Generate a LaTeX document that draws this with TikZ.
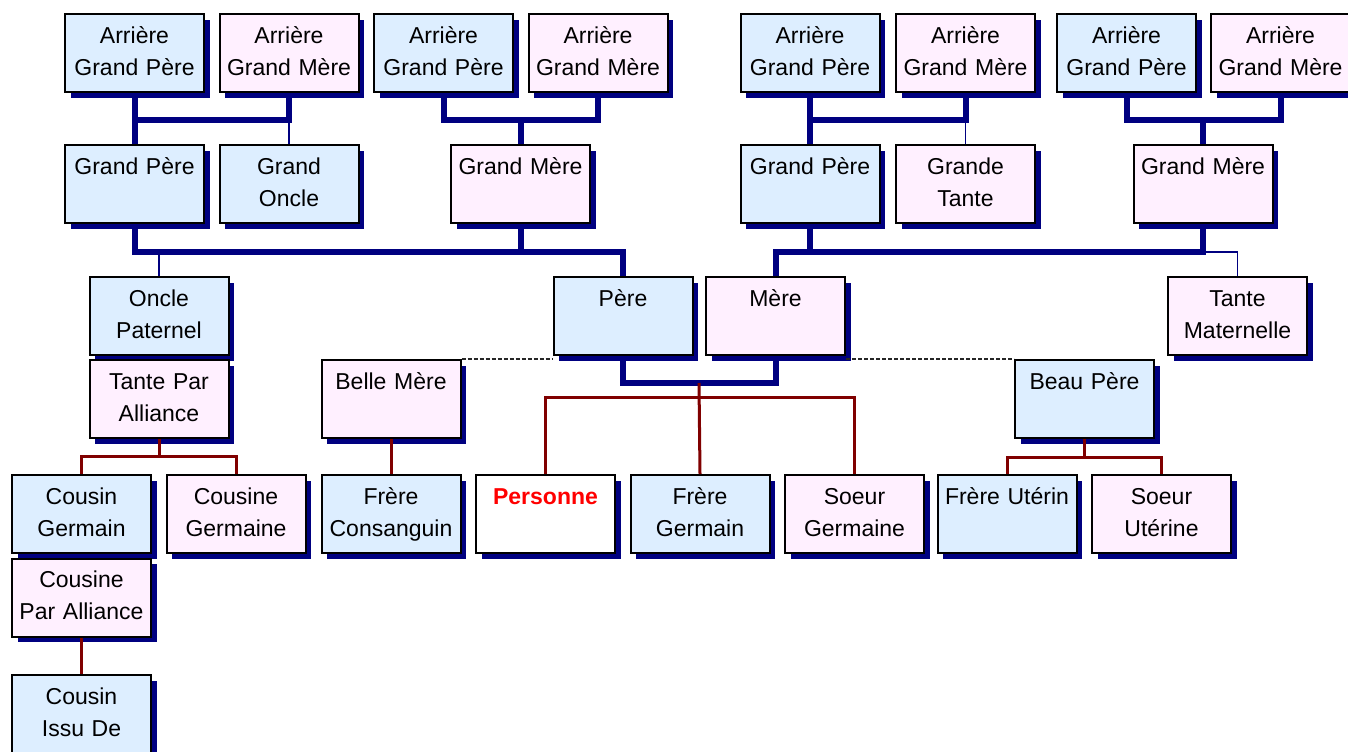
\documentclass[tikz,border=0pt]{standalone}
\usepackage{fontspec}
\setmainfont{Liberation Sans}
\usetikzlibrary{shadows}
\definecolor{bleu}{RGB}{221,238,255}
\definecolor{rose}{RGB}{255,240,255}
\definecolor{marine}{RGB}{0,0,128}
\definecolor{bordeaux}{RGB}{128,0,0}

\begin{document}
\begin{tikzpicture}[x=0.5pt,y=-0.5pt]
	\tikzstyle{case}=[rectangle,draw=black,line width=1pt,text width=69.5pt,minimum height=39pt,inner xsep=0pt,inner ysep=0pt,align=center,font=\fontsize{11.5}{16}\selectfont,execute at begin node=\strut,execute at end node=\strut,drop shadow={shadow xshift=2.75pt,shadow yshift=-2.75pt,fill=marine,opacity=1}]
	\tikzstyle{homme}=[case,fill=bleu]
	\tikzstyle{femme}=[case,fill=rose]
	\tikzstyle{moi}=[case,fill=white,text=red,font=\fontsize{11.5}{16}\selectfont\bfseries]
	\tikzstyle{epais}=[draw=marine,line width=3pt]
	\tikzstyle{fin}=[draw=marine,line width=0.6pt]
	\tikzstyle{rouge}=[draw=bordeaux,line width=1.5pt]
	\tikzstyle{pointille}=[draw=black!85,line width=0.7pt,dash pattern=on 2pt off 1pt]
	\useasboundingbox (0,0) rectangle (1348,751);
	\node[homme] (agp1) at (134.5,53){Arrière\\Grand Père};
	\node[femme] (agm1) at (289,53){Arrière\\Grand Mère};
	\node[homme] (agp2) at (443.5,53){Arrière\\Grand Père};
	\node[femme] (agm2) at (598,53){Arrière\\Grand Mère};
	\node[homme] (agp3) at (810,53){Arrière\\Grand Père};
	\node[femme] (agm3) at (965.5,53){Arrière\\Grand Mère};
	\node[homme] (agp4) at (1126.5,53){Arrière\\Grand Père};
	\node[femme] (agm4) at (1280.5,53){Arrière\\Grand Mère};
	\node[homme] (gp1) at (134.5,184){Grand Père\\};
	\node[homme] (go) at (289,184){Grand\\Oncle};
	\node[femme] (gm2) at (520.5,184){Grand Mère\\};
	\node[homme] (gp3) at (810,184){Grand Père\\};
	\node[femme] (gt) at (965.5,184){Grande\\Tante};
	\node[femme] (gm4) at (1203,184){Grand Mère\\};
	\node[homme] (op) at (159,316){Oncle\\Paternel};
	\node[homme] (pere) at (623,316){Père\\};
	\node[femme] (mere) at (775.5,316){Mère\\};
	\node[femme] (tm) at (1237.5,316){Tante\\Maternelle};
	\node[femme] (tpa) at (159,399){Tante Par\\Alliance};
	\node[femme] (bm) at (391,399){Belle Mère\\};
	\node[homme] (bp) at (1084.5,399){Beau Père\\};
	\node[homme] (cg) at (81.5,514){Cousin\\Germain};
	\node[femme] (cge) at (236,514){Cousine\\Germaine};
	\node[homme] (fc) at (391,514){Frère\\Consanguin};
	\node[moi] (moi) at (545.5,514){Personne\\};
	\node[homme] (fg) at (700,514){Frère\\Germain};
	\node[femme] (sg) at (854.5,514){Soeur\\Germaine};
	\node[homme] (fu) at (1007,514){Frère Utérin\\};
	\node[femme] (su) at (1161.5,514){Soeur\\Utérine};
	\node[femme] (cpa) at (81.5,597.5){Cousine\\Par Alliance};
	\node[homme] (cid) at (81.5,714){Cousin\\Issu De};
	\coordinate (u1) at (289,120);
	\coordinate (u2) at (520.5,120);
	\coordinate (u3) at (965.5,120);
	\coordinate (u4) at (1203,120);
	\coordinate (barp) at (400,252);
	\coordinate (barm) at (1000,252);
	\coordinate (c) at (699,383);
	\coordinate (r) at (699,397);
	\coordinate (t) at (159,456);
	\coordinate (b) at (1084.5,457);
	\draw[epais] (agp1.south) -- (gp1.north);
	\draw[epais] (agm1.south) -- (u1) -- (u1 -| agp1.south);
	\draw[fin] (u1) -- (go.north);
	\draw[epais] (agp2.south) -- (agp2.south |- u2) -- (agm2.south |- u2) -- (agm2.south);
	\draw[epais] (u2) -- (gm2.north);
	\draw[epais] (agp3.south) -- (gp3.north);
	\draw[epais] (agm3.south) -- (u3) -- (u3 -| agp3.south);
	\draw[fin] (u3) -- (gt.north);
	\draw[epais] (agp4.south) -- (agp4.south |- u4) -- (agm4.south |- u4) -- (agm4.south);
	\draw[epais] (u4) -- (gm4.north);
	\draw[epais] (gp1.south) |- (barp) -| (pere.north);
	\draw[epais] (gm2.south) -- (gm2.south |- barp);
	\draw[fin] (op.north) -- (op.north |- barp);
	\draw[epais] (mere.north) |- (barm) -| (gm4.south);
	\draw[epais] (gp3.south) -- (gp3.south |- barm);
	\draw[fin] (gm4.south |- barm) -| (tm.north);
	\draw[epais] (pere.south) |- (c) -| (mere.south);
	\draw[rouge] (c) -- (fg.north);
	\draw[rouge] (moi.north) |- (r) -| (sg.north);
	\draw[rouge] (tpa.south) -- (t);
	\draw[rouge] (cg.north) |- (t) -| (cge.north);
	\draw[rouge] (bm.south) -- (fc.north);
	\draw[rouge] (bp.south) -- (b);
	\draw[rouge] (fu.north) |- (b) -| (su.north);
	\draw[rouge] (cpa.south) -- (cid.north);
	\draw[pointille] (bm.north east) -- (bm.north east -| pere.west);
	\draw[pointille] (bp.north west -| mere.east) -- (bp.north west);
\end{tikzpicture}
\end{document}
